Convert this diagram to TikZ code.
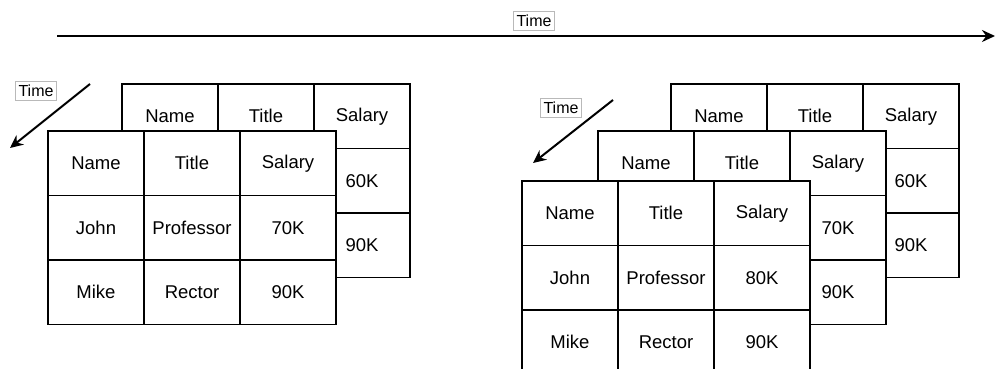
\documentclass[tikz,border=0pt]{standalone}
\usepackage{fontspec}
\setmainfont{Liberation Sans}
\usetikzlibrary{arrows.meta}

% a full table of three columns and three rows, top left corner at (#2,#3)
\newcommand{\salarytable}[5]{%
  \foreach \a/\b/\s [count=\r] in {Name/Title/Salary, John/Professor/#4, Mike/Rector/#5} {
    \node[cell] (#1-\r-1) at ({#2+48},  {#3+(\r-0.5)*64.5}) {\a};
    \node[cell] (#1-\r-2) at ({#2+144}, {#3+(\r-0.5)*64.5}) {\b};
    \node[cell] (#1-\r-3) at ({#2+240}, {#3+(\r-0.5)*64.5}) {\s};
  }
}
% a table further back: only its header and salary column show
\newcommand{\backtable}[5]{%
  \foreach \h [count=\c] in {Name,Title,Salary}
    \node[cell] (#1-1-\c) at ({#2+(\c-0.5)*96}, {#3+32.25}) {\h};
  \node[cell] (#1-2-3) at ({#2+240}, {#3+96.75}) {#4};
  \node[cell] (#1-3-3) at ({#2+240}, {#3+161.25}) {#5};
}

\begin{document}
\begin{tikzpicture}[x=1pt,y=-1pt]
  \tikzset{cell/.style={draw, fill=white, line width=1.3pt, inner sep=0pt,
             minimum width=96pt, minimum height=64.5pt,
             font=\fontsize{18.5}{20}\selectfont},
           timelabel/.style={draw=gray!55, line width=0.8pt, inner xsep=3pt, inner ysep=3.5pt,
             font=\fontsize{16}{18}\selectfont},
           timearrow/.style={line width=2.4pt, -{Stealth[length=13pt,width=12pt]}}}
  \useasboundingbox (0,0) rectangle (996,369);

  % time runs from left to right
  \coordinate (tstart) at (57,36);
  \coordinate (tend) at (995,36);
  \draw[timearrow] (tstart) -- (tend);
  \node[timelabel] (tlabel) at (534,21) {Time};

  % left group
  \coordinate (lstart) at (90,84);
  \coordinate (lend) at (10,148);
  \draw[timearrow, line width=2pt] (lstart) -- (lend);
  \node[timelabel] (llabel) at (36,91) {Time};
  \backtable{lback}{122}{84}{60K}{90K}
  \salarytable{lfront}{48}{131}{70K}{90K}

  % right group
  \coordinate (rstart) at (613,100);
  \coordinate (rend) at (533,163);
  \draw[timearrow, line width=2pt] (rstart) -- (rend);
  \node[timelabel] (rlabel) at (561,108) {Time};
  \backtable{rback}{671}{84}{60K}{90K}
  \backtable{rmid}{598}{131}{70K}{90K}
  \salarytable{rfront}{522}{181}{80K}{90K}
\end{tikzpicture}
\end{document}
